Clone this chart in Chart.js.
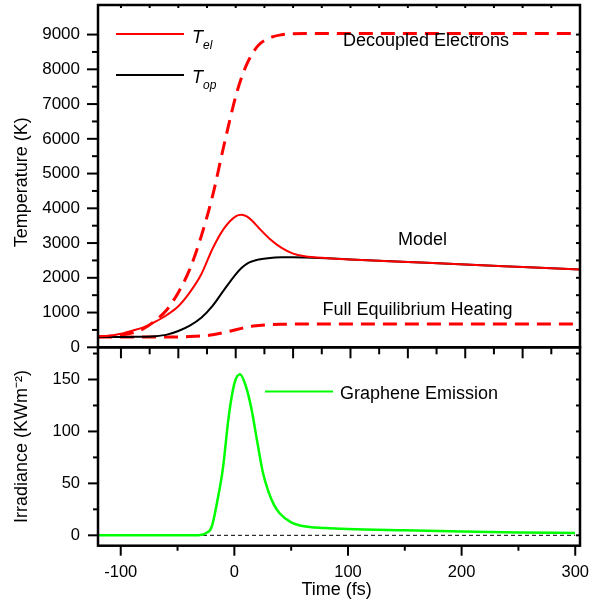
<!DOCTYPE html>
<html><head><meta charset="utf-8">
<script src="https://cdn.jsdelivr.net/npm/chart.js@4/dist/chart.umd.min.js"></script>
<style>
html,body{margin:0;padding:0;background:#fff;}
#wrap{position:relative;width:595px;height:607px;}
canvas{position:absolute;left:0;top:0;}
</style></head><body>
<div id="wrap"><canvas id="c2" width="595" height="607"></canvas><canvas id="c1" width="595" height="607"></canvas></div>
<script>
// ---------- data ----------
const timeTop = [-120,-110,-100,-90,-80,-70,-60,-50,-40,-30,-20,-10,0,5,10,15,20,30,40,50,60,80,100,150,200,250,300];
const tDecoupled = [300,320,350,420,540,770,1080,1580,2250,3200,4380,5850,7220,7760,8170,8480,8700,8910,8995,9025,9030,9030,9030,9030,9030,9030,9030];
const tElModel   = [315,330,390,480,580,740,930,1180,1580,2100,2850,3430,3770,3815,3760,3620,3440,3110,2860,2695,2620,2565,2530,2455,2380,2310,2240];
const tOpModel   = [294,295,297,300,305,320,365,470,625,850,1200,1660,2100,2280,2410,2480,2525,2570,2588,2592,2585,2560,2530,2455,2380,2310,2240];
const tFullEq    = [295,295,295,295,295,295,297,300,308,325,360,425,505,545,585,610,630,652,662,667,670,672,673,673,673,673,673];
const timeEm   = [-120,-60,-40,-30,-25,-20,-15,-10,-5,0,5,10,15,20,25,30,35,40,50,60,80,100,150,200,250,300];
const emission = [0,0,0,0.3,2,8,33,65,114,146,155,144,122,91,61,42,29,21,12.5,9,7,6,4.8,3.7,2.8,2.2];
const zeroLine = [0,0];
const zeroTimes = [-120,300];
const xTicks = [-100,0,100,200,300];
const yTopTicks = [0,1000,2000,3000,4000,5000,6000,7000,8000,9000];
const yBotTicks = [0,50,100,150];

// ---------- layout ----------
const FONT = '"Liberation Sans", Arial, Helvetica, sans-serif';
const W = 595, H = 607, L = 98, R = 580, TOP = 5, MID = 347.3, BOT = 545.7;
const pts = (xs, ys) => xs.map((x, i) => ({x: x, y: ys[i]}));
Chart.defaults.font.family = FONT;
Chart.defaults.color = '#000';

function range(a, b, s) { const o = []; for (let v = a; v <= b + 1e-9; v += s) o.push(v); return o; }

function xTick(ctx, sc, vals, y0, lenFn, dir) {
  vals.forEach(v => {
    const p = sc.getPixelForValue(v);
    ctx.beginPath(); ctx.moveTo(p, y0); ctx.lineTo(p, y0 + dir * lenFn(v)); ctx.stroke();
  });
}
function yTick(ctx, sc, vals, x0, lenFn, dir) {
  vals.forEach(v => {
    const p = sc.getPixelForValue(v);
    ctx.beginPath(); ctx.moveTo(x0, p); ctx.lineTo(x0 + dir * lenFn(v), p); ctx.stroke();
  });
}
const isMult = (v, m) => Math.abs(v / m - Math.round(v / m)) < 1e-6;
const plain = v => String(v);

const topDeco = {
  id: 'topDeco',
  afterDraw(chart) {
    const ctx = chart.ctx, xs = chart.scales.x, ys = chart.scales.y;
    ctx.save();
    ctx.strokeStyle = '#000'; ctx.lineWidth = 2;
    yTick(ctx, ys, range(0, 9000, 500), L, v => isMult(v, 1000) ? 11 : 6, -1);
    yTick(ctx, ys, range(500, 9000, 500), R, v => 4, -1);
    xTick(ctx, xs, range(-100, 275, 25), TOP, v => 3, 1);
    xTick(ctx, xs, range(-100, 300, 25), MID, v => isMult(v, 50) ? 11 : 7, 1);
    ctx.lineWidth = 2.5;
    ctx.strokeRect(L, TOP, R - L, MID - TOP);
    // legend
    ctx.lineWidth = 2;
    ctx.strokeStyle = '#ff0000';
    ctx.beginPath(); ctx.moveTo(116, 34); ctx.lineTo(184, 34); ctx.stroke();
    ctx.strokeStyle = '#000';
    ctx.beginPath(); ctx.moveTo(116, 75); ctx.lineTo(184, 75); ctx.stroke();
    ctx.fillStyle = '#000';
    ctx.textBaseline = 'alphabetic'; ctx.textAlign = 'left';
    ctx.font = 'italic 18px ' + FONT;
    ctx.fillText('T', 192, 43);
    ctx.fillText('T', 192, 83);
    ctx.font = 'italic 12px ' + FONT;
    ctx.fillText('el', 203, 48.5);
    ctx.fillText('op', 203, 88.5);
    // annotations
    ctx.font = '18px ' + FONT;
    ctx.fillText('Decoupled Electrons', 343, 45.5);
    ctx.fillText('Model', 398, 245);
    ctx.fillText('Full Equilibrium Heating', 322.5, 314.5);
    ctx.restore();
  }
};

const botDeco = {
  id: 'botDeco',
  afterDraw(chart) {
    const ctx = chart.ctx, xs = chart.scales.x, ys = chart.scales.y;
    ctx.save();
    ctx.strokeStyle = '#000'; ctx.lineWidth = 2;
    yTick(ctx, ys, range(0, 175, 25), L, v => isMult(v, 50) ? 10 : 5, -1);
    yTick(ctx, ys, range(0, 175, 25), R, v => 4, -1);
    xTick(ctx, xs, range(-100, 300, 50), BOT, v => isMult(v, 100) ? 10 : 5, 1);
    ctx.lineWidth = 2.5;
    ctx.strokeRect(L, MID, R - L, BOT - MID);
    ctx.lineWidth = 2;
    ctx.strokeStyle = '#00ff00';
    ctx.beginPath(); ctx.moveTo(265, 391.5); ctx.lineTo(333, 391.5); ctx.stroke();
    ctx.fillStyle = '#000';
    ctx.textBaseline = 'alphabetic'; ctx.textAlign = 'left';
    ctx.font = '18px ' + FONT;
    ctx.fillText('Graphene Emission', 340, 398.5);
    ctx.restore();
  }
};

const axisGrid = {display: true, drawOnChartArea: false, drawTicks: true, tickLength: 11, tickColor: 'rgba(0,0,0,0)'};

new Chart(document.getElementById('c1'), {
  type: 'line',
  data: {
    datasets: [
      {data: pts(timeTop, tElModel), borderColor: '#ff0000', borderWidth: 2, pointRadius: 0, cubicInterpolationMode: 'monotone'},
      {data: pts(timeTop, tOpModel), borderColor: '#000000', borderWidth: 2, pointRadius: 0, cubicInterpolationMode: 'monotone'},
      {data: pts(timeTop, tDecoupled), borderColor: '#ff0000', borderWidth: 3, borderDash: [14, 8], pointRadius: 0, cubicInterpolationMode: 'monotone'},
      {data: pts(timeTop, tFullEq), borderColor: '#ff0000', borderWidth: 3, borderDash: [14, 8], pointRadius: 0, cubicInterpolationMode: 'monotone'}
    ]
  },
  options: {
    responsive: false, animation: false, devicePixelRatio: 1,
    layout: {padding: {left: 0, right: W - R, top: TOP, bottom: H - MID}},
    plugins: {legend: {display: false}, tooltip: {enabled: false}},
    scales: {
      x: {type: 'linear', min: -120, max: 300, display: false},
      y: {
        type: 'linear', min: 0, max: 9500,
        afterFit(s) { s.width = L; },
        afterBuildTicks(s) { s.ticks = yTopTicks.map(v => ({value: v})); },
        grid: axisGrid, border: {display: false},
        ticks: {padding: 7, color: '#000', font: {size: 17}, callback: plain},
        title: {display: true, text: 'Temperature (K)', color: '#000', font: {size: 18}, padding: {top: 11, bottom: 0}}
      }
    }
  },
  plugins: [topDeco]
});

new Chart(document.getElementById('c2'), {
  type: 'line',
  data: {
    datasets: [
      {data: pts(timeEm, emission), borderColor: '#00ff00', borderWidth: 2.5, pointRadius: 0, cubicInterpolationMode: 'monotone'},
      {data: pts(zeroTimes, zeroLine), borderColor: '#000000', borderWidth: 1, borderDash: [4, 3], pointRadius: 0}
    ]
  },
  options: {
    responsive: false, animation: false, devicePixelRatio: 1,
    layout: {padding: {left: 0, right: W - R, top: MID, bottom: 0}},
    plugins: {legend: {display: false}, tooltip: {enabled: false}},
    scales: {
      x: {
        type: 'linear', min: -120, max: 300,
        afterFit(s) { s.height = H - BOT; },
        afterBuildTicks(s) { s.ticks = xTicks.map(v => ({value: v})); },
        grid: axisGrid, border: {display: false},
        ticks: {padding: 6, color: '#000', font: {size: 16.5}, maxRotation: 0, callback: plain},
        title: {display: true, text: 'Time (fs)', color: '#000', font: {size: 18}, padding: {top: 0, bottom: 6}}
      },
      y: {
        type: 'linear', min: -10, max: 181,
        afterFit(s) { s.width = L; },
        afterBuildTicks(s) { s.ticks = yBotTicks.map(v => ({value: v})); },
        grid: axisGrid, border: {display: false},
        ticks: {padding: 7, color: '#000', font: {size: 16.5}, callback: plain},
        title: {display: true, text: 'Irradiance (KWm⁻²)', color: '#000', font: {size: 18}, padding: {top: 11, bottom: 0}}
      }
    }
  },
  plugins: [botDeco]
});
</script>
</body></html>
